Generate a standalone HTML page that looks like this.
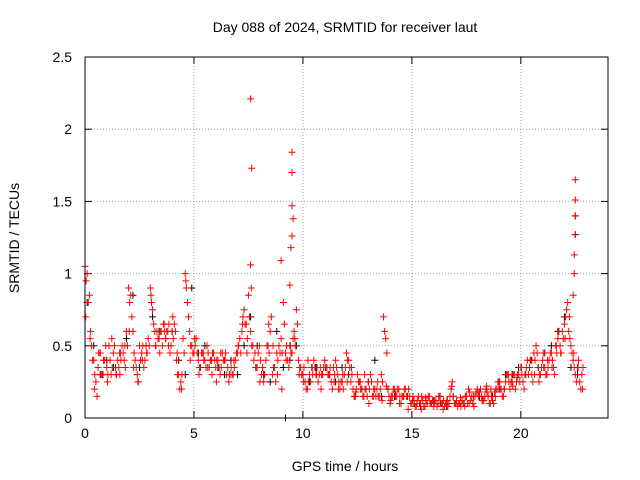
<!DOCTYPE html>
<html><head><meta charset="utf-8"><style>
body{margin:0;background:#fff}
svg{display:block;font-family:"Liberation Sans",sans-serif}
</style></head><body>
<svg id="chart" width="640" height="480" xmlns="http://www.w3.org/2000/svg">
<rect width="640" height="480" fill="#fff"/>
<text x="345" y="32" text-anchor="middle" font-size="14">Day 088 of 2024, SRMTID for receiver laut</text>
<text transform="translate(19,238) rotate(-90)" text-anchor="middle" font-size="14">SRMTID / TECUs</text>
<text x="345" y="471" text-anchor="middle" font-size="14">GPS time / hours</text>
<g id="grid"></g>
<g id="ticks"></g>
<g id="black"></g>
<g id="red"></g>
<rect x="85" y="57" width="523" height="361" fill="none" stroke="#000" stroke-width="1"/>
</svg>
<script>
const xTicks=[0,5,10,15,20];
const yTicks=[0,0.5,1,1.5,2,2.5];
const yTickLabels=["0","0.5","1","1.5","2","2.5"];
const redStep=0.1;
const redValues=[1.05,1.0,0.85,0.5,0.4,0.25,0.35,0.45,0.3,0.4,
0.35,0.5,0.3,0.45,0.35,0.4,0.3,0.5,0.4,0.6,
0.9,0.85,0.6,0.4,0.3,0.5,0.45,0.35,0.5,0.55,
0.9,0.75,0.6,0.6,0.55,0.6,0.65,0.55,0.6,0.45,
0.6,0.65,0.4,0.3,0.25,0.55,1.0,0.8,0.6,0.5,
0.45,0.55,0.4,0.35,0.45,0.4,0.5,0.35,0.4,0.45,
0.35,0.4,0.3,0.45,0.4,0.3,0.25,0.35,0.3,0.4,
0.45,0.55,0.6,0.75,0.65,0.85,0.6,0.5,0.45,0.35,
0.5,0.3,0.25,0.4,0.5,0.6,0.3,0.35,0.45,0.5,
0.55,0.8,0.45,0.4,0.5,0.45,0.6,0.75,0.4,0.35,
0.3,0.25,0.2,0.3,0.35,0.4,0.3,0.25,0.35,0.3,
0.4,0.35,0.3,0.25,0.35,0.4,0.3,0.2,0.25,0.3,
0.45,0.4,0.25,0.2,0.15,0.3,0.25,0.2,0.15,0.2,
0.25,0.3,0.15,0.2,0.2,0.15,0.3,0.7,0.55,0.2,
0.1,0.15,0.2,0.15,0.2,0.1,0.15,0.2,0.15,0.15,
0.1,0.12,0.08,0.15,0.1,0.12,0.08,0.1,0.15,0.1,
0.08,0.12,0.1,0.15,0.1,0.08,0.12,0.1,0.2,0.15,
0.1,0.08,0.1,0.12,0.1,0.15,0.2,0.12,0.1,0.15,
0.2,0.18,0.15,0.12,0.2,0.15,0.1,0.12,0.18,0.2,
0.25,0.2,0.15,0.25,0.3,0.2,0.25,0.3,0.25,0.3,
0.35,0.25,0.3,0.4,0.35,0.3,0.45,0.5,0.35,0.3,
0.4,0.35,0.3,0.4,0.45,0.35,0.5,0.55,0.5,0.6,
0.65,0.75,0.6,0.5,0.4,0.3,0.35,0.25,0.3];
const redValues2=[0.95,0.8,0.6,0.4,0.3,0.15,0.45,0.3,0.4,0.5,
0.3,0.4,0.35,0.5,0.3,0.35,0.4,0.45,0.35,0.5,
0.8,0.7,0.45,0.35,0.25,0.4,0.5,0.4,0.45,0.5,
0.8,0.65,0.5,0.55,0.6,0.5,0.6,0.6,0.65,0.5,
0.55,0.6,0.3,0.2,0.3,0.45,0.9,0.7,0.5,0.45,
0.5,0.45,0.35,0.45,0.4,0.35,0.45,0.4,0.45,0.4,
0.4,0.35,0.35,0.4,0.45,0.35,0.3,0.3,0.35,0.45,
0.5,0.45,0.7,0.65,0.55,0.7,0.5,0.4,0.35,0.45,
0.4,0.35,0.3,0.5,0.45,0.7,0.35,0.25,0.4,0.45,
0.45,0.65,0.5,0.35,0.45,0.55,0.5,0.65,0.35,0.3,
0.35,0.2,0.25,0.25,0.3,0.35,0.35,0.3,0.3,0.35,
0.35,0.3,0.35,0.2,0.3,0.35,0.25,0.25,0.2,0.35,
0.4,0.35,0.3,0.15,0.2,0.25,0.2,0.15,0.2,0.15,
0.2,0.25,0.2,0.15,0.15,0.2,0.25,0.6,0.45,0.15,
0.15,0.2,0.15,0.2,0.15,0.15,0.2,0.15,0.2,0.1,
0.15,0.08,0.12,0.1,0.15,0.08,0.12,0.15,0.1,0.12,
0.1,0.08,0.15,0.1,0.12,0.1,0.08,0.15,0.25,0.1,
0.12,0.1,0.08,0.1,0.15,0.1,0.18,0.15,0.08,0.18,
0.15,0.2,0.12,0.15,0.18,0.1,0.15,0.1,0.2,0.25,
0.2,0.15,0.2,0.3,0.25,0.25,0.3,0.2,0.3,0.25,
0.3,0.2,0.35,0.3,0.4,0.25,0.4,0.45,0.3,0.35,
0.35,0.3,0.35,0.45,0.4,0.3,0.45,0.6,0.45,0.55,
0.7,0.8,0.55,0.45,0.35,0.25,0.4,0.2,0.35];
const redStep3=0.2;
const redValues3=[0.7,0.55,0.2,0.45,0.3,0.25,0.55,0.3,0.45,0.5,
0.6,0.35,0.25,0.4,0.45,0.85,0.5,0.45,0.65,0.5,
0.7,0.45,0.2,0.95,0.4,0.55,0.3,0.45,0.35,0.3,
0.25,0.45,0.4,0.3,0.4,0.5,0.65,0.45,0.9,0.35,
0.25,0.3,0.65,0.5,0.3,0.2,0.4,0.5,0.55,0.3,
0.25,0.4,0.35,0.3,0.2,0.35,0.3,0.25,0.2,0.3,
0.25,0.35,0.18,0.25,0.3,0.1,0.15,0.25,0.12,0.22,
0.12,0.18,0.1,0.15,0.06,0.12,0.1,0.06,0.14,0.1,
0.12,0.15,0.06,0.12,0.22,0.1,0.14,0.08,0.1,0.15,
0.18,0.12,0.22,0.2,0.15,0.25,0.2,0.3,0.22,0.28,
0.35,0.3,0.4,0.3,0.25,0.45,0.4,0.35,0.5,0.45,
0.55,0.7,0.45,0.35,0.2];
const outlierHours=[7.6,7.65,7.6,9.5,9.5,9.5,9.55,9.5,9.45,9.4,9.0,22.5,22.5,22.5,22.5,22.45,22.45,22.4];
const outlierValues=[2.21,1.73,1.06,1.84,1.7,1.47,1.38,1.26,1.18,0.92,1.09,1.65,1.51,1.4,1.27,1.13,1.0,0.85];
const blackStep=0.3;
const blackValues=[0.8,0.5,0.3,0.4,0.35,0.45,0.55,0.85,0.35,0.5,
0.7,0.6,0.55,0.6,0.4,0.3,0.9,0.45,0.5,0.4,
0.35,0.3,0.4,0.3,0.5,0.7,0.5,0.3,0.25,0.6,
0.35,0.4,0.5,0.3,0.25,0.35,0.3,0.3,0.25,0.35,
0.3,0.15,0.2,0.25,0.4,0.15,0.2,0.15,0.1,0.15,
0.1,0.08,0.1,0.12,0.1,0.08,0.15,0.1,0.15,0.1,
0.15,0.2,0.15,0.2,0.3,0.3,0.35,0.3,0.4,0.35,
0.45,0.5,0.6,0.7,0.35,0.3];
const blackOutlierHours=[9.2,22.5,22.5];
const blackOutlierValues=[0.0,1.4,1.27];

const X0=85,X1=608,Y0=418,Y1=57,XMAX=24,YMAX=2.5;
const xs=v=>X0+(X1-X0)*v/XMAX;
const ys=v=>Y0-(Y0-Y1)*v/YMAX;
const NS="http://www.w3.org/2000/svg";
function mk(tag,attrs,parent){const e=document.createElementNS(NS,tag);for(const k in attrs)e.setAttribute(k,attrs[k]);parent.appendChild(e);return e;}
const grid=document.getElementById('grid'),ticks=document.getElementById('ticks');
xTicks.forEach(t=>{
  const x=xs(t);
  if(t>0){const g=mk('line',{x1:x,x2:x,y1:Y0,y2:Y1,stroke:'#a0a0a0','stroke-dasharray':'1,2'},grid);
  
  }
  mk('line',{x1:x,x2:x,y1:Y0,y2:Y0-7,stroke:'#000'},ticks);
  mk('line',{x1:x,x2:x,y1:Y1,y2:Y1+7,stroke:'#000'},ticks);
  const l=mk('text',{x:x,y:Y0+20,'text-anchor':'middle','font-size':'14'},ticks);
  l.textContent=t;
  
  
});
yTicks.forEach((t,i)=>{
  const y=ys(t);
  if(t>0&&t<YMAX){const g=mk('line',{x1:X0,x2:X1,y1:y,y2:y,stroke:'#a0a0a0','stroke-dasharray':'1,2'},grid);
  
  }
  mk('line',{x1:X0,x2:X0+7,y1:y,y2:y,stroke:'#000'},ticks);
  mk('line',{x1:X1,x2:X1-7,y1:y,y2:y,stroke:'#000'},ticks);
  const l=mk('text',{x:X0-13,y:y+5,'text-anchor':'end','font-size':'14'},ticks);
  l.textContent=yTickLabels[i];
  
  
});
function plus(g,h,v,color){
  const x=xs(h),y=ys(v);
  const p=mk('path',{d:`M${x-3.5},${y}H${x+3.5}M${x},${y-3.5}V${y+3.5}`,stroke:color,'stroke-width':1,fill:'none'},g);
  
  
}
const black=document.getElementById('black'),red=document.getElementById('red');
blackValues.forEach((v,i)=>plus(black,i*blackStep+0.1,v,'#000'));
blackOutlierHours.forEach((h,i)=>plus(black,h,blackOutlierValues[i],'#000'));
redValues.forEach((v,i)=>plus(red,i*redStep,v,'#f00'));
redValues2.forEach((v,i)=>plus(red,i*redStep+0.05,v,'#f00'));
redValues3.forEach((v,i)=>plus(red,i*redStep3+0.03,v,'#f00'));
outlierHours.forEach((h,i)=>plus(red,h,outlierValues[i],'#f00'));
</script>
</body></html>
